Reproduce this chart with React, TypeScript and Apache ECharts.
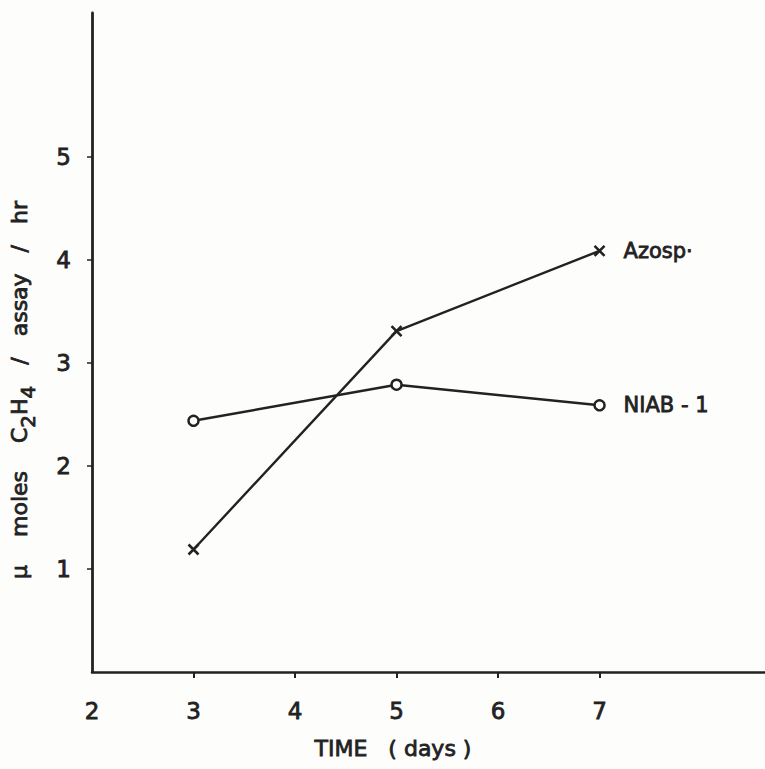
import React, { useEffect, useRef } from "react";
import * as echarts from "echarts";

// Sampling days
const days = [3, 5, 7];
// Nitrogenase activity (µmoles C2H4 / assay / hr)
const azospValues = [1.19, 3.31, 4.09];
const niabValues = [2.44, 2.79, 2.59];

const xTickLabels = [2, 3, 4, 5, 6, 7];
const xTicks = [3, 4, 5, 6, 7];
const yTickLabels = [1, 2, 3, 4, 5];

const seriesNames = ["Azosp·", "NIAB - 1"];
const xTitle = "TIME   ( days )";

const INK = "#222222";
const PAPER = "#fdfdfc";
const FONT = "'DejaVu Sans', 'Noto Sans', sans-serif";

// medium-weight lettering: regular face with a thin outline
const inkText = { color: INK, fontFamily: FONT, textBorderColor: INK, textBorderWidth: 0.8 };

export default function App() {
  const ref = useRef<HTMLDivElement>(null);

  useEffect(() => {
    if (!ref.current) return;
    const chart = echarts.init(ref.current, null, { renderer: "svg" });

    const pairs = (vals: number[]) => days.map((d, i) => [d, vals[i]]);

    const endLabel = (text: string) => ({
      show: true,
      formatter: text,
      ...inkText,
      fontSize: 21,
      distance: 24,
    });

    const richBase = {
      fontFamily: FONT,
      fill: INK,
      stroke: INK,
      lineWidth: 0.8,
      lineHeight: 24,
      verticalAlign: "bottom",
    };

    chart.setOption({
      animation: false,
      backgroundColor: PAPER,
      grid: { left: 92, right: 0, top: 13, bottom: 97 },
      xAxis: {
        type: "value",
        min: 2,
        max: 8.63,
        axisLine: { show: true, lineStyle: { color: INK, width: 2.5 } },
        axisTick: {
          show: true,
          customValues: xTicks,
          length: 6,
          lineStyle: { color: INK, width: 2 },
        },
        axisLabel: {
          customValues: xTickLabels,
          ...inkText,
          fontSize: 23,
          margin: 27,
        },
        splitLine: { show: false },
      },
      yAxis: {
        type: "value",
        min: 0,
        max: 6.4,
        axisLine: { show: true, lineStyle: { color: INK, width: 2.8 } },
        axisTick: {
          show: true,
          customValues: yTickLabels,
          length: 5,
          lineStyle: { color: INK, width: 1.5 },
        },
        axisLabel: {
          customValues: yTickLabels,
          ...inkText,
          fontSize: 23,
          margin: 21,
        },
        splitLine: { show: false },
      },
      graphic: [
        {
          type: "text",
          x: 393,
          y: 748,
          style: {
            text: xTitle,
            fill: INK,
            stroke: INK,
            lineWidth: 0.8,
            font: `22px ${FONT}`,
            textAlign: "center",
            textVerticalAlign: "middle",
          },
        },
        {
          type: "text",
          x: 26,
          y: 390,
          rotation: Math.PI / 2,
          style: {
            text: "{a|µ    moles    C}{s|2}{a|H}{s|4}{a|   /   assay   /   hr}",
            fill: INK,
            textAlign: "center",
            textVerticalAlign: "middle",
            rich: {
              a: { ...richBase, fontSize: 22, padding: [0, 0, 8, 0] },
              s: { ...richBase, fontSize: 20 },
            },
          },
        },
      ],
      series: [
        {
          name: seriesNames[0],
          type: "line",
          data: pairs(azospValues),
          symbol: "path://M0,0L10,10M10,0L0,10",
          symbolSize: 10,
          lineStyle: { color: INK, width: 2.4 },
          itemStyle: { color: INK, borderColor: INK, borderWidth: 2.6 },
          endLabel: endLabel(seriesNames[0]),
        },
        {
          name: seriesNames[1],
          type: "line",
          data: pairs(niabValues),
          symbol: "circle",
          symbolSize: 10,
          lineStyle: { color: INK, width: 2.4 },
          itemStyle: { color: PAPER, borderColor: INK, borderWidth: 2.4 },
          endLabel: endLabel(seriesNames[1]),
        },
      ],
    });

    return () => chart.dispose();
  }, []);

  return <div ref={ref} style={{ width: 765, height: 769, position: "absolute", left: 0, top: 0 }} />;
}
